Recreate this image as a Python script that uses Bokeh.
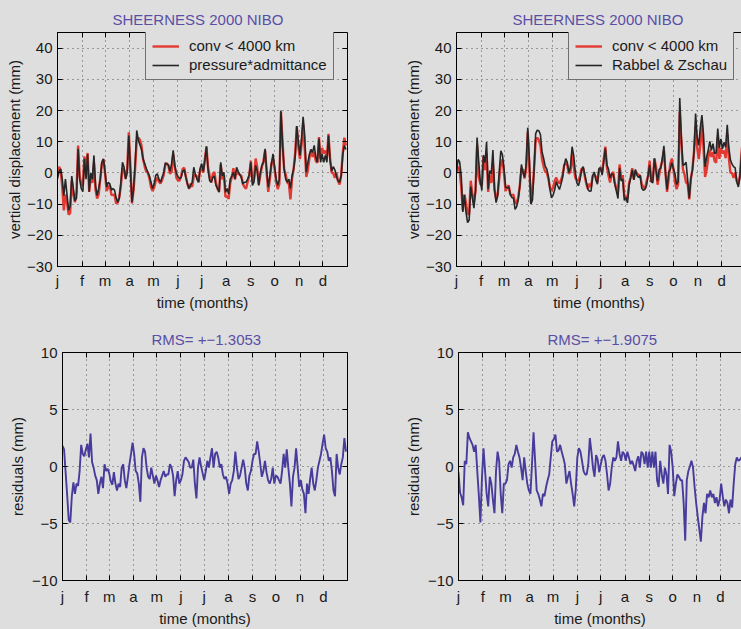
from bokeh.plotting import figure
from bokeh.models import FixedTicker, Legend, LegendItem, LinearAxis
from bokeh.layouts import column, row
from bokeh.embed import file_html
from bokeh.resources import INLINE

# ---------------- data ----------------
days = list(range(0, 366, 2))  # sampling grid, day of year 2000

month_days = [0, 31, 60, 91, 121, 152, 182, 213, 244, 274, 305, 335]
month_labels = ["j", "f", "m", "a", "m", "j", "j", "a", "s", "o", "n", "d"]

top_yticks = [-30, -20, -10, 0, 10, 20, 30, 40]
bot_yticks = [-10, -5, 0, 5, 10]

title_top = "SHEERNESS 2000 NIBO"
title_bl = "RMS= +\u22121.3053"
title_br = "RMS= +\u22121.9075"

# conv < 4000 km (red, both upper panels)
conv = [
    -0.1, 2.0, 0.8, -4.5, -12, -6.9, -9.6, -13.4, -12.9, -2.5,
    -6.7, -9.4, -6.1, 8.8, -1.1, -3.5, -4, 5.3, 0.9, 6.4,
    -6.1, -0.8, -3.2, 3.2, -5.5, -8.2, -6.9, -1.8, 3.0, 4.3,
    -0.1, -5.8, -4.6, -4.0, -7.0, -7.1, -7.0, -9.8, -9.5, -7.8,
    -4.2, 1.5, 0.9, -1.8, 1.3, 13.0, 2.1, -9.8, -5.6, 1.5,
    10.5, 11.3, 10.6, 8.8, 4.4, 2.1, 0.4, 0.1, -1.8, -4.5,
    -5.8, -4.7, -2.6, -1.5, -2.8, -3.4, -2.3, -0.7, 2.5, 3.1,
    2.4, -0.3, 0.4, 6.0, 2.1, -1.5, -2.4, -2.5, -1.0, 1.3,
    1.6, -1.1, -3.6, -5.1, -3.4, -4.5, -1.0, -0.6, -1.2, -3.0,
    0.9, 1.8, 0.1, 4.5, 8.4, 1.8, -0.9, -3.1, -0.4, 0.3,
    -3.2, -5.1, -6.0, 2.7, -2.1, -0.7, -7.7, -7.4, -8.3, -3.2,
    -1.4, 1.5, -2.1, 0.7, -0.3, -0.6, -0.9, -3.6, -4.5, -5.1,
    -2.8, -0.9, 3.9, -2.9, -1.9, 4.6, 2.0, -3.8, -0.7, 2.0,
    3.9, 7.2, -0.2, -6.1, -2.1, 2.9, 4.6, 1.2, -2.9, -5.2,
    -3.5, 19.6, 10.1, 1.2, -0.5, -3.1, -3.5, -8.5, -1.9, 1.2,
    6.6, 14.9, 8.2, 4.4, 9, 15.6, 7.9, -1.3, 1.0, 4.9,
    7.4, 5.1, 6.7, 3.8, 3.3, 11.5, 4.5, 8, 6.2, 7.2,
    4.7, 12.5, 4.8, 0.1, -0.1, -1.6, 0.1, -2.6, -3.7, -0.8,
    6.4, 11.3, 8.8,
]

# pressure*admittance (black, upper left)
press_adm = [
    -1.9, 0.5, 1.3, -2, -7.3, -2, -7, -12, -10.5, -1,
    -5, -9, -8, 7.7, -2, -5, -6, 4.5, -2, 6,
    -6, 0, -2, 5.6, -4, -7.3, -5, -2, 3.4, 4.5,
    0.5, -4.5, -3, -3.5, -5.5, -5, -5.5, -8, -9.4, -8,
    -3, 3.4, 1.8, -2, 0.2, 12, 1, -9.4, -5, 3,
    13.6, 10.5, 9, 7.5, 4.5, 3, 1.5, 0.2, -1, -3,
    -5, -3.5, -0.8, -0.3, -2, -3, -1.4, 0, 3.2, 2.9,
    2.5, 0.5, 3, 7.2, 2.5, 0, -1.2, -1.8, -1.5, 0.5,
    1, -1.5, -3.5, -5, -4, -3, 1.8, -0.5, -2, -3,
    1.5, 3, 0.5, 4, 8.5, 1, -2.5, -3, -1.5, -1,
    -4, -5, -6.2, 3.4, -1, 0.2, -6.2, -5, -6.8, -2,
    -1, 0.2, -2, 1.8, 0.5, -0.5, -1.5, -3.5, -3, -3,
    -2, -0.5, 3.4, -4, -3, 2.4, 0.7, -4, 0.2, 2.4,
    3.4, 7.7, 1, -4.6, -1, 3, 6.1, 2, -2, -4,
    -2, 20, 9, 1.3, -2, -3, -2, -5, -1, 1.3,
    5, 15, 10, 5.6, 11, 18, 12, 0.2, 3.4, 6,
    7.5, 6.6, 8.8, 5, 3.4, 11, 3.4, 6, 3.4, 5.6,
    3.4, 12, 4, 0.5, 2, 1, -1, -2.5, -3, -1,
    5.6, 8.8, 7.5,
]

# Rabbel & Zschau (black, upper right)
rabbel = [
    0.4, 4.3, 3.5, -1.1, -12.5, -7.1, -12.6, -15.9, -15.1, -4.4,
    -8.0, -11.3, -5.7, 11.3, 3.8, -2.5, -5.6, 5.7, 3.3, 9.9,
    -5.2, 0.7, -0.3, 7.3, -5.1, -9.5, -7.4, 0.6, 7.1, 5.8,
    1.4, -4.6, -4.8, -4.5, -6.9, -7.9, -8.1, -11.7, -10.8, -8.6,
    -4.1, 2.7, 0.1, -1.4, 2.8, 14.5, 4.5, -10.0, -8.6, 1.0,
    12.6, 13.7, 13.5, 12.3, 6.8, 4.7, 2.2, 1.3, -1.1, -5.3,
    -8.0, -7.1, -5.4, -2.8, -4.2, -5.3, -3.6, -1.5, 2.3, 4.6,
    3.3, 0.1, 1.9, 8.4, 5.6, 0.5, -3.2, -4.1, -2.3, 0.8,
    2.0, -0.4, -2.9, -5.3, -5.9, -5.8, -0.9, 0.3, -2.2, -3.6,
    1.4, 1.6, -0.7, 3.5, 7.9, 2.5, 1.2, -1.6, -0.3, -0.5,
    -3.7, -5.9, -8.2, 1.6, -2.6, -2.0, -8.8, -7.9, -9.6, -4.0,
    -1.6, 1.0, -2.2, 1.1, -0.8, -1.5, -0.8, -4.9, -5.6, -5.3,
    -4.1, -0.8, 2.6, -2.8, -3.2, 4.7, 0.7, -2.6, 1.1, 1.5,
    4.6, 8.7, -0.1, -5.4, 0.3, 1.0, 3.3, 1.3, -0.3, -3.7,
    -2.8, 24, 11.3, 2.4, 2.7, 3.4, -2.3, -8.1, -1.9, 0.7,
    6.7, 19, 11.4, 8.8, 14.5, 18.5, 12.3, 1.9, 5.1, 7.3,
    10.1, 7.2, 9.4, 6.2, 6.5, 14.2, 8.0, 10.9, 7.7, 9.8,
    8.2, 15.4, 8.0, 4.2, 2.8, 2.0, 1.6, -2.8, -4.5, -1.3,
    5.8, 10.5, 8.3,
]

# residuals, lower left
resid_left = [
    1.8, 1.5, -0.5, -2.5, -4.7, -4.9, -2.6, -1.4, -2.4, -1.5,
    -1.7, -0.4, 1.9, 1.1, 0.9, 1.5, 2.0, 0.8, 2.9, 0.4,
    -0.1, -0.8, -1.2, -2.4, -1.5, -0.9, -1.9, 0.2, -0.4, -0.2,
    -0.6, -1.3, -1.6, -0.5, -1.5, -2.1, -1.5, -1.8, -0.1, 0.2,
    -1.2, -1.9, -0.9, 0.2, 1.1, 2.1, 1.1, -0.4, -0.6, -1.5,
    -3.1, 0.8, 1.6, 1.3, -0.1, -0.9, -1.1, -0.1, -0.8, -1.5,
    -0.8, -1.2, -1.8, -1.2, -0.8, -0.4, -0.9, -0.7, -0.7, 0.2,
    -0.1, -0.8, -2.6, -1.2, -0.4, -1.5, -1.2, -0.7, 0.5, 0.8,
    0.6, 0.4, -0.1, -0.1, 0.6, -1.5, -2.8, -0.1, 0.8, 0.0,
    -0.6, -1.2, -0.4, 0.5, -0.1, 0.8, 1.6, -0.1, 1.1, 1.3,
    0.8, -0.1, 0.2, -0.7, -1.1, -0.9, -1.5, -2.4, -1.5, -1.2,
    -0.4, 1.3, -0.1, -1.1, -0.8, -0.1, 0.6, -0.1, -1.5, -2.1,
    -0.8, -0.4, 0.5, 1.1, 1.1, 2.2, 1.3, 0.2, -0.9, -0.4,
    0.5, -0.5, -1.2, -1.5, -1.1, -0.1, -1.5, -0.8, -0.9, -1.2,
    -1.5, -0.4, 1.1, -0.1, 1.5, -0.1, -1.5, -3.5, -0.9, -0.1,
    1.6, -0.1, -1.8, -1.2, -2.0, -2.4, -4.1, -1.5, -2.4, -1.1,
    -0.1, -1.5, -2.1, -1.2, -0.1, 0.5, 1.1, 2.0, 2.8, 1.6,
    1.3, 0.5, 0.8, -0.4, -2.1, -2.6, 1.1, -0.1, -0.7, 0.2,
    0.8, 2.5, 1.3,
]

# residuals, lower right
resid_right = [
    -0.5, -2.3, -2.7, -3.4, 0.5, 0.2, 3.0, 2.5, 2.2, 1.9,
    1.3, 1.9, -0.4, -2.5, -4.9, -1.0, 1.6, -0.4, -2.4, -3.5,
    -0.9, -1.5, -2.9, -4.1, -0.4, 1.3, 0.5, -2.4, -4.1, -1.5,
    -1.5, -1.2, 0.2, 0.5, -0.1, 0.8, 1.1, 1.9, 1.3, 0.8,
    -0.1, -1.2, 0.8, -0.4, -1.5, -2.1, -2.4, 0.2, 3.0, 0.5,
    -2.1, -2.4, -2.9, -3.5, -2.4, -2.6, -1.8, -1.2, -0.7, 0.8,
    2.2, 2.4, 2.8, 1.3, 1.4, 1.9, 1.3, 0.8, 0.2, -1.5,
    -0.9, -0.4, -1.5, -2.4, -3.5, -2.0, 0.8, 1.6, 1.3, 0.5,
    -0.4, -0.7, -0.7, 0.2, 2.5, 1.3, -0.1, -0.9, 1.0, 0.6,
    -0.5, 0.2, 0.8, 1.0, 0.5, -0.7, -2.1, -1.5, -0.1, 0.8,
    0.5, 0.8, 2.2, 1.1, 0.5, 1.3, 1.1, 0.5, 1.3, 0.8,
    0.2, 0.5, 0.1, -0.4, 0.5, 0.9, -0.1, 1.3, 1.1, 0.2,
    1.3, -0.1, 1.3, -0.1, 1.3, -0.1, 1.3, -1.2, -1.8, 0.5,
    -0.7, -1.5, -0.1, -0.7, -2.4, 1.9, 1.3, -0.1, -2.6, -1.5,
    -0.7, -0.9, -1.2, -1.2, -3.2, -6.5, -1.2, -0.4, 0.0, 0.5,
    -0.1, -1.8, -3.2, -4.4, -5.5, -6.6, -4.4, -3.2, -4.1, -2.4,
    -2.7, -2.1, -2.7, -2.4, -3.2, -2.7, -3.5, -2.9, -1.5, -2.6,
    -3.5, -2.9, -3.2, -4.1, -2.9, -3.6, -1.5, 0.2, 0.8, 0.5,
    0.6, 0.8, 0.5,
]

# ---------------- style ----------------
BG = "#dedede"
FONT = "Liberation Sans"
TITLE_C = "#5a4ea6"
RED = "#e23a32"
BLACK = "#262626"
BLUE = "#473b9c"
FS = "15px"


def minus(v):
    return str(v).replace("-", "\u2212")


def tick_only_axis(ticks, line):
    ax = LinearAxis(ticker=FixedTicker(ticks=ticks))
    ax.major_label_overrides = {t: "" for t in ticks}
    ax.major_label_text_font_size = "1px"
    ax.major_label_standoff = 0
    ax.major_tick_in = 5
    ax.major_tick_out = 0
    ax.minor_tick_line_color = None
    ax.major_tick_line_color = "black"
    ax.axis_line_color = "black" if line else None
    return ax


def make_fig(w, h, xmax, yr, yticks, left, right, top, bottom, title, toff,
             tstand, ylabel, yl_stand, xl_std, boxed=True):
    p = figure(width=w, height=h, x_range=(0, xmax), y_range=yr,
               output_backend="svg", toolbar_location=None,
               min_border_left=left, min_border_right=right,
               min_border_top=top, min_border_bottom=bottom,
               background_fill_color=BG, border_fill_color=BG,
               title=title, styles={"background-color": BG})
    p.title.align = "left"
    p.title.offset = toff
    p.title.standoff = tstand
    p.title.text_font = FONT
    p.title.text_font_size = FS
    p.title.text_font_style = "normal"
    p.title.text_color = TITLE_C

    p.xaxis.ticker = FixedTicker(ticks=month_days)
    p.xaxis.major_label_overrides = {d: m for d, m in zip(month_days, month_labels)}
    p.yaxis.ticker = FixedTicker(ticks=yticks)
    p.yaxis.major_label_overrides = {t: minus(t) for t in yticks}
    p.xaxis.axis_label = "time (months)"
    p.yaxis.axis_label = ylabel
    for ax in (p.xaxis, p.yaxis):
        ax.major_tick_in = 5
        ax.major_tick_out = 0
        ax.minor_tick_line_color = None
        ax.axis_line_color = "black"
        ax.major_tick_line_color = "black"
        ax.major_label_text_font = FONT
        ax.major_label_text_font_size = FS
        ax.major_label_text_color = "#1a1a1a"
        ax.axis_label_text_font = FONT
        ax.axis_label_text_font_size = FS
        ax.axis_label_text_font_style = "normal"
        ax.axis_label_text_color = "#1a1a1a"
    p.xaxis.major_label_standoff = xl_std
    p.xaxis.axis_label_standoff = 2
    p.yaxis.major_label_standoff = 5
    p.yaxis.axis_label_standoff = yl_stand

    p.xgrid.ticker = FixedTicker(ticks=month_days)
    p.ygrid.ticker = FixedTicker(ticks=yticks)
    for g in (p.xgrid, p.ygrid):
        g.grid_line_color = "#3a3a3a"
        g.grid_line_dash = "1 4"
        g.grid_line_width = 1
        g.grid_line_alpha = 0.85

    # MATLAB-style box ticks on the top (and right when visible)
    p.add_layout(tick_only_axis(month_days, not boxed), "above")
    if boxed:
        p.add_layout(tick_only_axis(yticks, False), "right")
        p.outline_line_color = "black"
        p.outline_line_width = 1
    else:
        p.outline_line_color = None
    return p


def add_legend(p, items, x, y):
    leg = Legend(items=items, location=(x, y))
    leg.label_text_font = FONT
    leg.label_text_font_size = FS
    leg.label_text_color = "#1a1a1a"
    leg.glyph_width = 27
    leg.glyph_height = 16
    leg.label_height = 16
    leg.label_standoff = 10
    leg.padding = 6
    leg.spacing = 2
    leg.margin = 0
    leg.border_line_color = "black"
    leg.border_line_width = 1
    leg.background_fill_color = BG
    leg.background_fill_alpha = 1
    p.add_layout(leg)


# upper left
p1 = make_fig(370, 318, 366, (-30, 45), top_yticks, 57, 23, 32, 52,
              title_top, 55, 9, "vertical displacement (mm)", 1, 5)
r1 = p1.line(days, conv, line_color=RED, line_width=2.4)
b1 = p1.line(days, press_adm, line_color=BLACK, line_width=1.6)
add_legend(p1, [LegendItem(label="conv < 4000 km", renderers=[r1]),
                LegendItem(label="pressure*admittance", renderers=[b1])], 88, 186)

# upper right
p2 = make_fig(371, 318, 360, (-30, 45), top_yticks, 86, 0, 32, 52,
              title_top, 56, 9, "vertical displacement (mm)", 1, 5, boxed=False)
r2 = p2.line(days, conv, line_color=RED, line_width=2.4)
b2 = p2.line(days, rabbel, line_color=BLACK, line_width=1.6)
add_legend(p2, [LegendItem(label="conv < 4000 km", renderers=[r2]),
                LegendItem(label="Rabbel & Zschau", renderers=[b2])], 112, 186)

# lower left
p3 = make_fig(370, 311, 366, (-10, 10), bot_yticks, 62, 23, 34, 43,
              title_bl, 89, 10, "residuals (mm)", 3, 7)
p3.line(days, resid_left, line_color=BLUE, line_width=1.9)

# lower right
p4 = make_fig(371, 311, 362, (-10, 10), bot_yticks, 88, 0, 34, 43,
              title_br, 89, 10, "residuals (mm)", 3, 7, boxed=False)
p4.line(days, resid_right, line_color=BLUE, line_width=1.9)

sty = {"background-color": BG}
layout = column(row(p1, p2, spacing=0, styles=sty),
                row(p3, p4, spacing=0, styles=sty),
                spacing=0, styles=sty)

with open("out.html", "w") as f:
    f.write(file_html(layout, INLINE))
